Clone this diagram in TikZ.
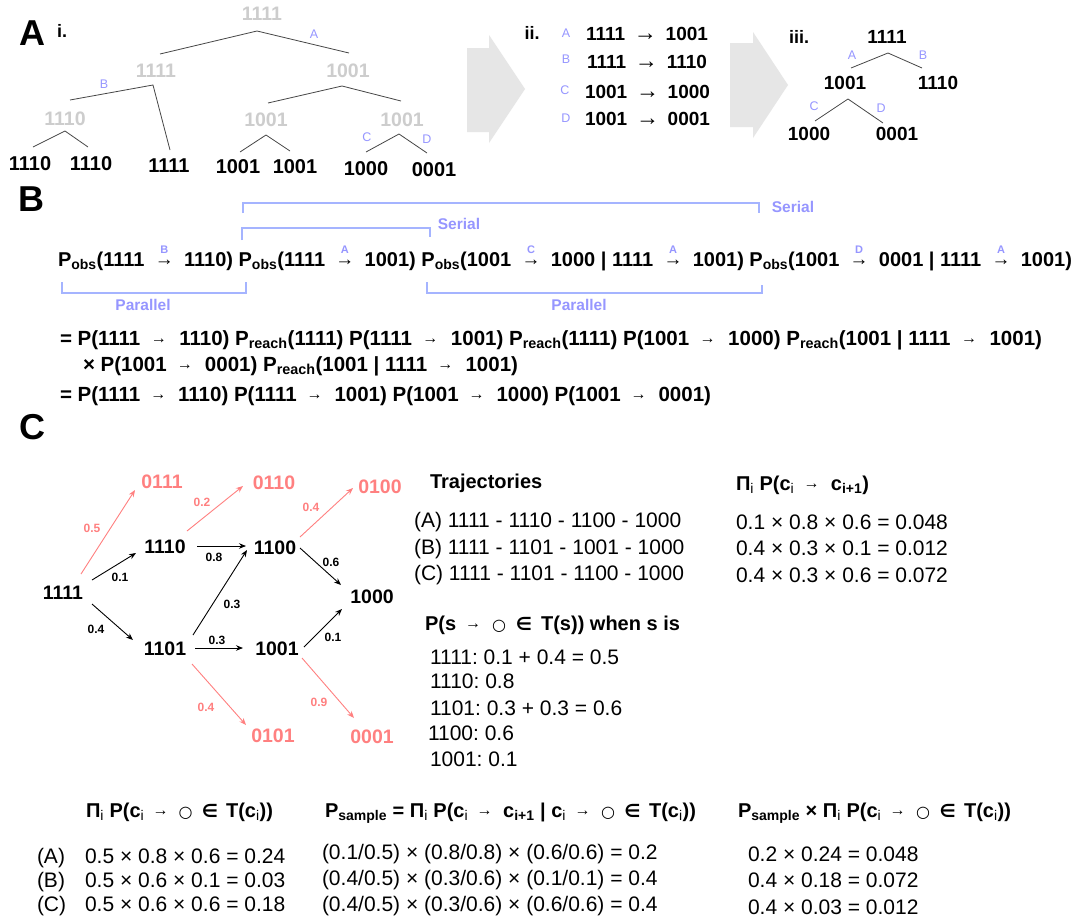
\documentclass[tikz,border=0pt]{standalone}
\usepackage{fontspec}
\setmainfont{Liberation Sans}
\newfontfamily\dv{DejaVu Sans}
\usetikzlibrary{arrows.meta,calc}
\definecolor{lblue}{RGB}{150,150,255}
\definecolor{brkcol}{RGB}{165,180,255}
\definecolor{lgray}{RGB}{205,205,205}
\definecolor{arrgray}{RGB}{230,230,230}
\definecolor{rd}{RGB}{255,128,128}
\definecolor{tlcol}{RGB}{70,70,70}
\frenchspacing
\newcommand\fs[1]{\fontsize{#1}{#1}\selectfont}
\newcommand\ga[1]{\hspace{#1 plus 1fil}}
\newcommand\arrS{{\mdseries\fs{16}\raisebox{1.5pt}{→}}}
\newcommand\arrM{{\mdseries\fs{19}\raisebox{1pt}{→}}}
\newcommand\arrL{{\mdseries\fs{23}\raisebox{0pt}{→}}}
\newcommand\ar{\ga{4pt}\arrS\ga{6pt}}
\newcommand\arL{\ga{6pt}\arrL\ga{6pt}}
\newcommand\sa[1]{\ga{6pt}\ooalign{\arrM\cr\hidewidth\raisebox{13pt}{\color{lblue}\fs{11}#1}\hidewidth\cr}\ga{6pt}}
\newcommand\sbs[1]{\textsubscript{#1}}
\newcommand\myo{{\dv\mdseries\fs{16}○}}
\newcommand\myin{{\dv\bfseries\fs{18}∈}}
\newcommand\oin{\myo\ga{5pt}\myin\ga{4pt}}
\newcommand\W[2]{\hbox to #1{#2}}
\tikzset{
  panel/.style={font=\bfseries\fs{36}},
  roman/.style={font=\bfseries\fs{18}},
  gtxt/.style={font=\bfseries\fs{19.5}, text=lgray},
  ltxt/.style={font=\bfseries\fs{20}},
  iitxt/.style={font=\bfseries\fs{19}},
  lab/.style={font=\fs{12.5}, text=lblue},
  tline/.style={draw=tlcol, line width=0.8pt},
  bigarr/.style={fill=arrgray, draw=none},
  brk/.style={draw=brkcol, line width=1.1pt},
  blab/.style={font=\bfseries\fs{15.5}, text=lblue},
  btxt/.style={font=\bfseries\fs{20}, anchor=base west},
  etxt/.style={font=\bfseries\fs{20.5}, anchor=base west},
  gn/.style={font=\bfseries\fs{19.5}},
  rn/.style={font=\bfseries\fs{19.5}, text=rd},
  elab/.style={font=\bfseries\fs{12}},
  relab/.style={font=\bfseries\fs{12}, text=rd},
  ed/.style={draw=black, line width=0.9pt, -{Stealth[length=7pt,width=5.5pt]}},
  rarr/.style={draw=rd, line width=0.9pt, -{Stealth[length=7pt,width=5.5pt]}},
  rg/.style={font=\fs{21}, anchor=base west},
  hd/.style={font=\bfseries\fs{20}, anchor=base west},
}
\begin{document}
\begin{tikzpicture}[x=1pt,y=-1pt, every node/.style={inner sep=0pt, outer sep=0pt}]
\fill[white] (0,0) rectangle (1075,918);
\useasboundingbox (0,0) rectangle (1075,918);

% ---------- Panel A ----------
\node[panel] (pA) at (32,33) {A};
\node[roman] (ri) at (62,31) {i.};
\node[gtxt] (r) at (262,14) {1111};
\node[gtxt] (a) at (156,71) {1111};
\node[gtxt] (b) at (348,71) {1001};
\node[gtxt] (c) at (65,119) {1110};
\node[gtxt] (d) at (266,120) {1001};
\node[gtxt] (e) at (402,120) {1001};
\node[ltxt] (f1) at (30,164) {1110};
\node[ltxt] (f2) at (91,164) {1110};
\node[ltxt] (f3) at (169,166) {1111};
\node[ltxt] (f4) at (238,167) {1001};
\node[ltxt] (f5) at (295,167) {1001};
\node[ltxt] (f6) at (366,169) {1000};
\node[ltxt] (f7) at (434,170) {0001};
\draw[tline] ($(a)+(4,-17)$) -- ($(r)+(-5,17)$) -- ($(b)+(1,-18)$);
\draw[tline] ($(c)+(5,-19)$) -- ($(a)+(-3,14)$) -- ($(f3)+(1,-16)$);
\draw[tline] ($(d)+(2,-17)$) -- ($(b)+(-6,15)$) -- ($(e)+(-1,-19)$);
\draw[tline] ($(f1)+(3,-17)$) -- ($(c)+(0,12)$) -- ($(f2)+(-3,-17)$);
\draw[tline] ($(f4)+(2,-15)$) -- ($(d)+(0,15)$) -- ($(f5)+(-5,-16)$);
\draw[tline] ($(f6)+(0,-17)$) -- ($(e)+(-3,14)$) -- ($(f7)+(-7,-17)$);
\node[lab] (la1) at (314,34) {A};
\node[lab] (lb1) at (104,84) {B};
\node[lab] (lc1) at (367,137) {C};
\node[lab] (ld1) at (427,139) {D};

\fill[bigarr] (467,48) -- (489,48) -- (489,35) -- (525,89) -- (489,143) -- (489,132) -- (467,132) -- cycle;
\fill[bigarr] (730,43) -- (753,43) -- (753,32) -- (788,85) -- (753,138) -- (753,127) -- (730,127) -- cycle;

\node[roman] (rii) at (532,33) {ii.};
\node[lab] (la2) at (566,33) {A};
\node[lab] (lb2) at (566,59) {B};
\node[lab] (lc2) at (565,90) {C};
\node[lab] (ld2) at (566,118) {D};
\node[iitxt, anchor=west] (ii1) at (586,34) {\W{122pt}{1111\arL 1001}};
\node[iitxt, anchor=west] (ii2) at (587,62) {\W{120pt}{1111\arL 1110}};
\node[iitxt, anchor=west] (ii3) at (585,92) {\W{125pt}{1001\arL 1000}};
\node[iitxt, anchor=west] (ii4) at (585,119) {\W{125pt}{1001\arL 0001}};

\node[roman] (riii) at (799,37) {iii.};
\node[iitxt] (t1) at (887,37) {1111};
\node[iitxt] (t2) at (845,83) {1001};
\node[iitxt] (t3) at (938,83) {1110};
\node[iitxt] (t4) at (809,134) {1000};
\node[iitxt] (t5) at (897,134) {0001};
\draw[tline] ($(t2)+(6,-15)$) -- ($(t1)+(1,16)$) -- ($(t3)+(-16,-15)$);
\draw[tline] ($(t4)+(6,-13)$) -- ($(t2)+(3,16)$) -- ($(t5)+(-14,-11)$);
\node[lab] (la3) at (852,55) {A};
\node[lab] (lb3) at (923,55) {B};
\node[lab] (lc3) at (814,106) {C};
\node[lab] (ld3) at (881,108) {D};

% ---------- Panel B ----------
\node[panel] (pB) at (31,199) {B};
\draw[brk] (243,213) -- (243,203) -- (759,203) -- (759,213);
\node[blab] (s1) at (793,207) {Serial};
\draw[brk] (242,240) -- (242,228) -- (430,228) -- (430,237);
\node[blab] (s2) at (459,224) {Serial};
\node[btxt] (eqB) at (58,266) {\W{1014pt}{P\sbs{obs}(1111\sa{B}1110) P\sbs{obs}(1111\sa{A}1001) P\sbs{obs}(1001\sa{C}1000 | 1111\sa{A}1001) P\sbs{obs}(1001\sa{D}0001 | 1111\sa{A}1001)}};
\draw[brk] (62,282) -- (62,293) -- (246,293) -- (246,282);
\node[blab] (p1) at (143,305) {Parallel};
\draw[brk] (427,282) -- (427,293) -- (762,293) -- (762,285);
\node[blab] (p2) at (579,305) {Parallel};

\node[etxt] (e1) at (60,345) {\W{982pt}{= P(1111\ar 1110) P\sbs{reach}(1111) P(1111\ar 1001) P\sbs{reach}(1111) P(1001\ar 1000) P\sbs{reach}(1001 | 1111\ar 1001)}};
\node[etxt] (e2) at (83,371) {\W{435pt}{× P(1001\ar 0001) P\sbs{reach}(1001 | 1111\ar 1001)}};
\node[etxt] (e3) at (60,401) {\W{651pt}{= P(1111\ar 1110) P(1111\ar 1001) P(1001\ar 1000) P(1001\ar 0001)}};

% ---------- Panel C ----------
\node[panel] (pC) at (32,427) {C};
\node[gn] (n1111) at (63,593) {1111};
\node[gn] (n1110) at (165,547) {1110};
\node[gn] (n1101) at (165,649) {1101};
\node[gn] (n1100) at (275,548) {1100};
\node[gn] (n1001) at (277,649) {1001};
\node[gn] (n1000) at (372,597) {1000};
\node[rn] (r0111) at (162,482) {0111};
\node[rn] (r0110) at (274,483) {0110};
\node[rn] (r0100) at (380,487) {0100};
\node[rn] (r0101) at (273,736) {0101};
\node[rn] (r0001) at (372,737) {0001};
\draw[ed] ($(n1111)+(29,-13)$) -- ($(n1110)+(-29,6)$);
\draw[ed] ($(n1111)+(29,11)$) -- ($(n1101)+(-32,-9)$);
\draw[ed] ($(n1110)+(32,-1)$) -- ($(n1100)+(-29,-2)$);
\draw[ed] ($(n1101)+(28,-14)$) -- ($(n1100)+(-28,2)$);
\draw[ed] ($(n1101)+(30,-1)$) -- ($(n1001)+(-34,-1)$);
\draw[ed] ($(n1100)+(25,0)$) -- ($(n1000)+(-31,-12)$);
\draw[ed] ($(n1001)+(27,-2)$) -- ($(n1000)+(-30,12)$);
\draw[rarr] ($(n1111)+(18,-19)$) -- ($(r0111)+(-27,8)$);
\draw[rarr] ($(n1110)+(22,-16)$) -- ($(r0110)+(-31,3)$);
\draw[rarr] ($(n1100)+(25,-11)$) -- ($(r0100)+(-27,1)$);
\draw[rarr] ($(n1101)+(27,15)$) -- ($(r0101)+(-27,-11)$);
\draw[rarr] ($(n1001)+(25,9)$) -- ($(r0001)+(-18,-19)$);
\node[elab] (w1) at (120,577) {0.1};
\node[elab] (w2) at (96,629) {0.4};
\node[elab] (w3) at (214,557) {0.8};
\node[elab] (w4) at (232,604) {0.3};
\node[elab] (w5) at (217,640) {0.3};
\node[elab] (w6) at (331,562) {0.6};
\node[elab] (w7) at (333,637) {0.1};
\node[relab] (w8) at (92,528) {0.5};
\node[relab] (w9) at (202,502) {0.2};
\node[relab] (w10) at (311,507) {0.4};
\node[relab] (w11) at (206,707) {0.4};
\node[relab] (w12) at (319,702) {0.9};

\node[hd] (traj) at (430,488) {Trajectories};
\node[rg] (ta) at (414,527) {(A) 1111 - 1110 - 1100 - 1000};
\node[rg] (tb) at (414,554) {(B) 1111 - 1101 - 1001 - 1000};
\node[rg] (tc) at (414,580) {(C) 1111 - 1101 - 1100 - 1000};
\node[hd] (pih) at (736,490) {\W{133pt}{Π\sbs{\mdseries i} P(c\sbs{\mdseries i}\ar c\sbs{i+1})}};
\node[rg] (pa) at (736,529) {0.1 × 0.8 × 0.6 = 0.048};
\node[rg] (pb) at (736,555) {0.4 × 0.3 × 0.1 = 0.012};
\node[rg] (pc) at (736,582) {0.4 × 0.3 × 0.6 = 0.072};
\node[hd] (ps) at (425,630) {\W{255pt}{P(s\ar\oin T(s)) when s is}};
\node[rg] (q1) at (430,664) {1111: 0.1 + 0.4 = 0.5};
\node[rg] (q2) at (430,688) {1110: 0.8};
\node[rg] (q3) at (430,715) {1101: 0.3 + 0.3 = 0.6};
\node[rg] (q4) at (428,740) {1100: 0.6};
\node[rg] (q5) at (430,766) {1001: 0.1};

\node[hd] (h1) at (86,817) {\W{187pt}{Π\sbs{\mdseries i} P(c\sbs{\mdseries i}\ar\oin T(c\sbs{\mdseries i}))}};
\node[hd] (h2) at (325,817) {\W{371pt}{P\sbs{sample} = Π\sbs{\mdseries i} P(c\sbs{\mdseries i}\ar c\sbs{i+1} | c\sbs{\mdseries i}\ar\oin T(c\sbs{\mdseries i}))}};
\node[hd] (h3) at (738,817) {\W{273pt}{P\sbs{sample} × Π\sbs{\mdseries i} P(c\sbs{\mdseries i}\ar\oin T(c\sbs{\mdseries i}))}};
\node[rg] (ka) at (37,863) {(A)};
\node[rg] (kb) at (37,887) {(B)};
\node[rg] (kc) at (37,911) {(C)};
\node[rg] (u1) at (85,863) {0.5 × 0.8 × 0.6 = 0.24};
\node[rg] (u2) at (85,887) {0.5 × 0.6 × 0.1 = 0.03};
\node[rg] (u3) at (85,911) {0.5 × 0.6 × 0.6 = 0.18};
\node[rg] (v1) at (322,859) {(0.1/0.5) × (0.8/0.8) × (0.6/0.6) = 0.2};
\node[rg] (v2) at (322,885) {(0.4/0.5) × (0.3/0.6) × (0.1/0.1) = 0.4};
\node[rg] (v3) at (322,911) {(0.4/0.5) × (0.3/0.6) × (0.6/0.6) = 0.4};
\node[rg] (x1) at (748,861) {0.2 × 0.24 = 0.048};
\node[rg] (x2) at (748,887) {0.4 × 0.18 = 0.072};
\node[rg] (x3) at (748,914) {0.4 × 0.03 = 0.012};
\end{tikzpicture}
\end{document}
